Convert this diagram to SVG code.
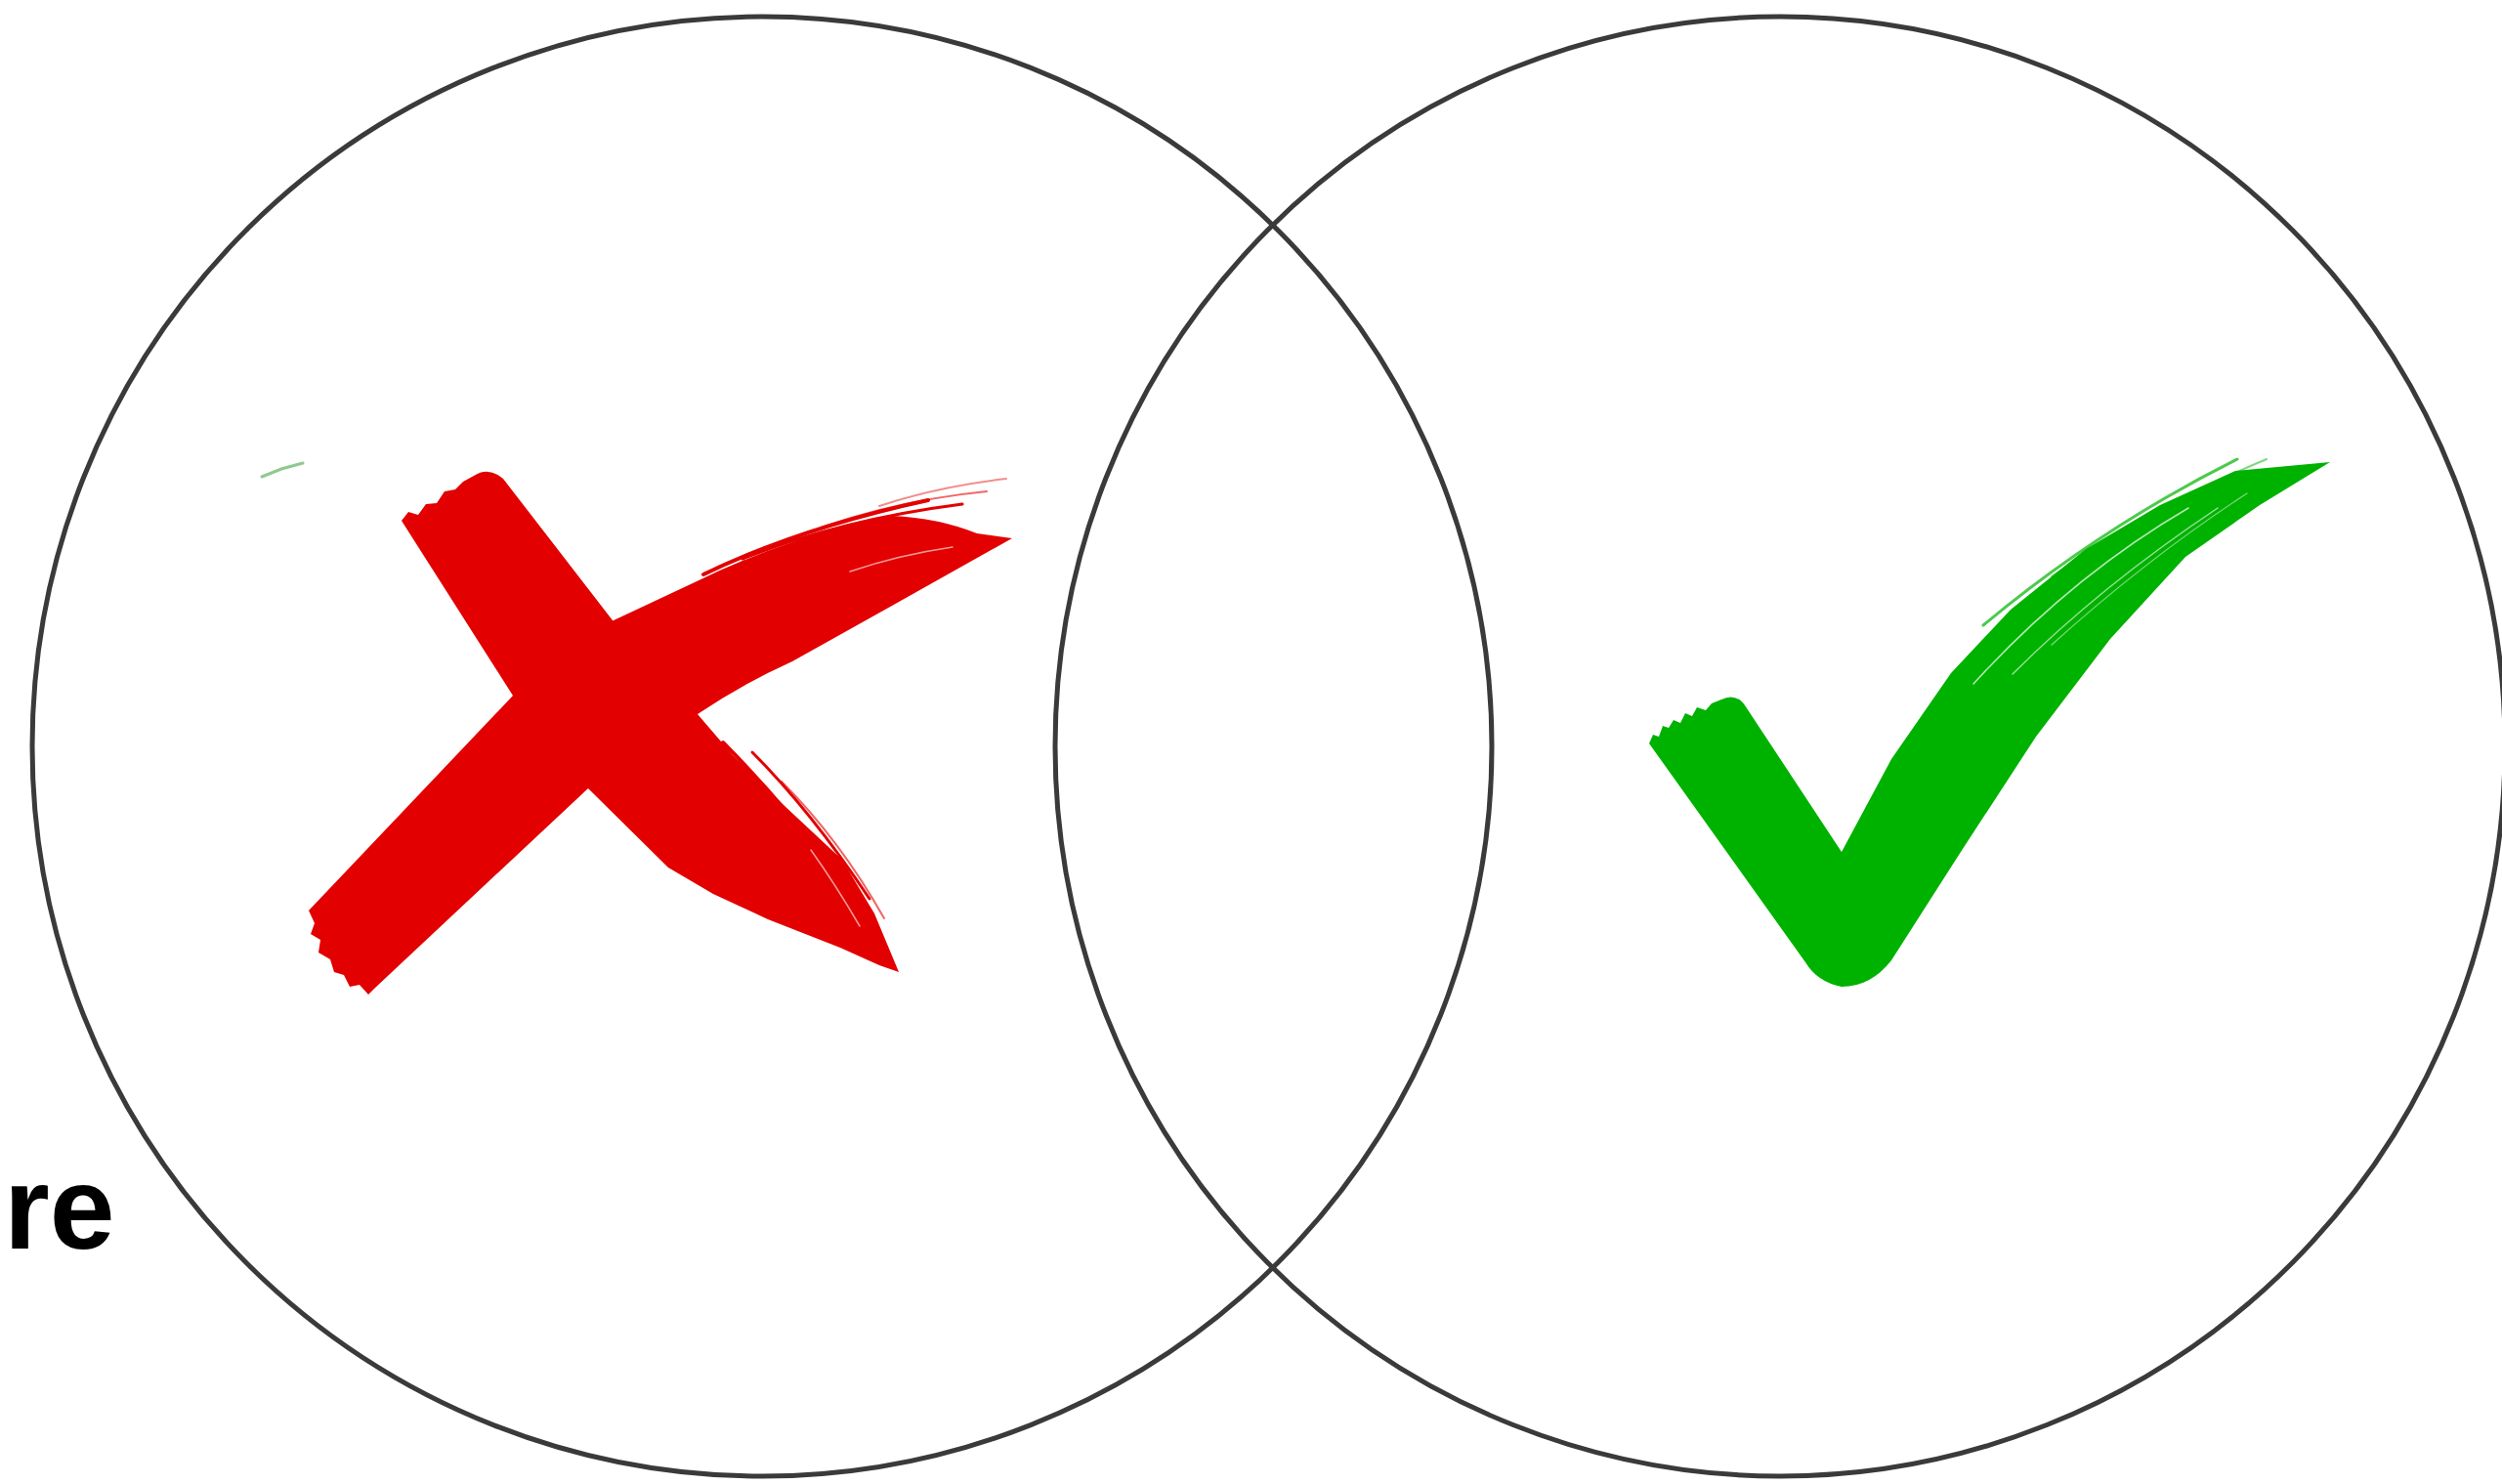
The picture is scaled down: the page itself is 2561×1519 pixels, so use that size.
<svg xmlns="http://www.w3.org/2000/svg" width="2561" height="1519" viewBox="0 0 2561 1519">
  <style>
    .ring { fill: none; stroke: #3a3a3a; stroke-width: 5; }
    .red { fill: #e20000; }
    .redstreak { fill: none; stroke: #e20000; stroke-linecap: round; }
    .green { fill: #00b200; }
    .greenstreak { fill: none; stroke: #00b200; stroke-linecap: round; }
    .gap { fill: none; stroke: #ffffff; stroke-linecap: round; }
    .label { font-family: "Liberation Sans", Arial, sans-serif; font-weight: bold; font-size: 120px; fill: #000000; }
  </style>
  <rect x="0" y="0" width="2561" height="1519" fill="#ffffff"/>

  <g id="circle-left">
    <circle class="ring" cx="780" cy="764" r="747"/>
  </g>
  <g id="circle-right">
    <ellipse class="ring" cx="1822" cy="764" rx="742" ry="747"/>
  </g>

  <g id="cross">
    <!-- falling stroke -->
    <path class="red" d="M411,533 L418,524 L428,527 L436,516 L447,515 L455,503 L466,501 L474,493 L485,487 Q500,477 515,490 L627,635 L714,731 L750,773 L801,823 L862,880 L895,935 L920,995 L900,988 L860,970 L786,941 L730,915 L684,888 L602,807 L525,712 Z"/>
    <!-- rising stroke -->
    <path class="red" d="M316,932 L322,945 L318,956 L328,962 L326,975 L338,982 L342,995 L352,998 L358,1010 L368,1008 L377,1018 L383,1012 L602,807 L714,731 Q760,700 811,677 L913,620 L1036,551 L1000,546 Q960,530 913,528 Q860,535 811,555 Q760,572 709,597 L628,635 L525,712 Z"/>
    <!-- brush streaks -->
    <path class="redstreak" stroke-width="4" d="M720,588 Q820,540 950,512"/>
    <path class="redstreak" stroke-width="3" d="M760,572 Q860,532 985,516"/>
    <path class="redstreak" stroke-width="2" opacity="0.6" d="M840,540 Q920,512 1010,503"/>
    <path class="redstreak" stroke-width="2" opacity="0.45" d="M900,518 Q960,498 1030,490"/>
    <path class="redstreak" stroke-width="4" d="M740,760 Q800,820 860,900"/>
    <path class="redstreak" stroke-width="3" d="M770,770 Q830,830 890,920"/>
    <path class="redstreak" stroke-width="2" opacity="0.6" d="M800,800 Q860,860 905,940"/>
    <path class="gap" stroke-width="1.5" opacity="0.6" d="M870,585 Q920,568 975,560"/>
    <path class="gap" stroke-width="1.5" opacity="0.6" d="M830,870 Q855,905 880,948"/>
    <!-- small faint green mark -->
    <path d="M268,488 L288,480 L310,474" fill="none" stroke="#8fc98f" stroke-width="3" stroke-linecap="round"/>
  </g>

  <g id="check">
    <path class="green" d="M1688,761 L1692,752 L1698,754 L1702,743 L1708,745 L1713,737 L1720,740 L1725,730 L1732,733 L1737,724 L1746,727 L1752,720 L1762,716 Q1778,708 1788,725 L1885,872 L1936,777 L1997,689 L2058,624 L2135,562 L2211,517 L2288,482 L2385,473 L2313,517 L2237,570 L2160,654 L2084,754 L2007,872 L1936,983 Q1915,1010 1885,1010 Q1860,1005 1848,985 Z"/>
    <path class="greenstreak" stroke-width="3" opacity="0.7" d="M2030,640 Q2150,540 2290,470"/>
    <path class="greenstreak" stroke-width="2" opacity="0.5" d="M2100,590 Q2200,520 2320,470"/>
    <path class="gap" stroke-width="1.5" opacity="0.7" d="M2020,700 Q2120,590 2240,520"/>
    <path class="gap" stroke-width="1.5" opacity="0.6" d="M2060,690 Q2150,600 2270,520"/>
    <path class="gap" stroke-width="1.2" opacity="0.5" d="M2100,660 Q2200,570 2300,505"/>
  </g>

  <g id="label-re">
    <text class="label" x="4" y="1278">re</text>
  </g>
</svg>
